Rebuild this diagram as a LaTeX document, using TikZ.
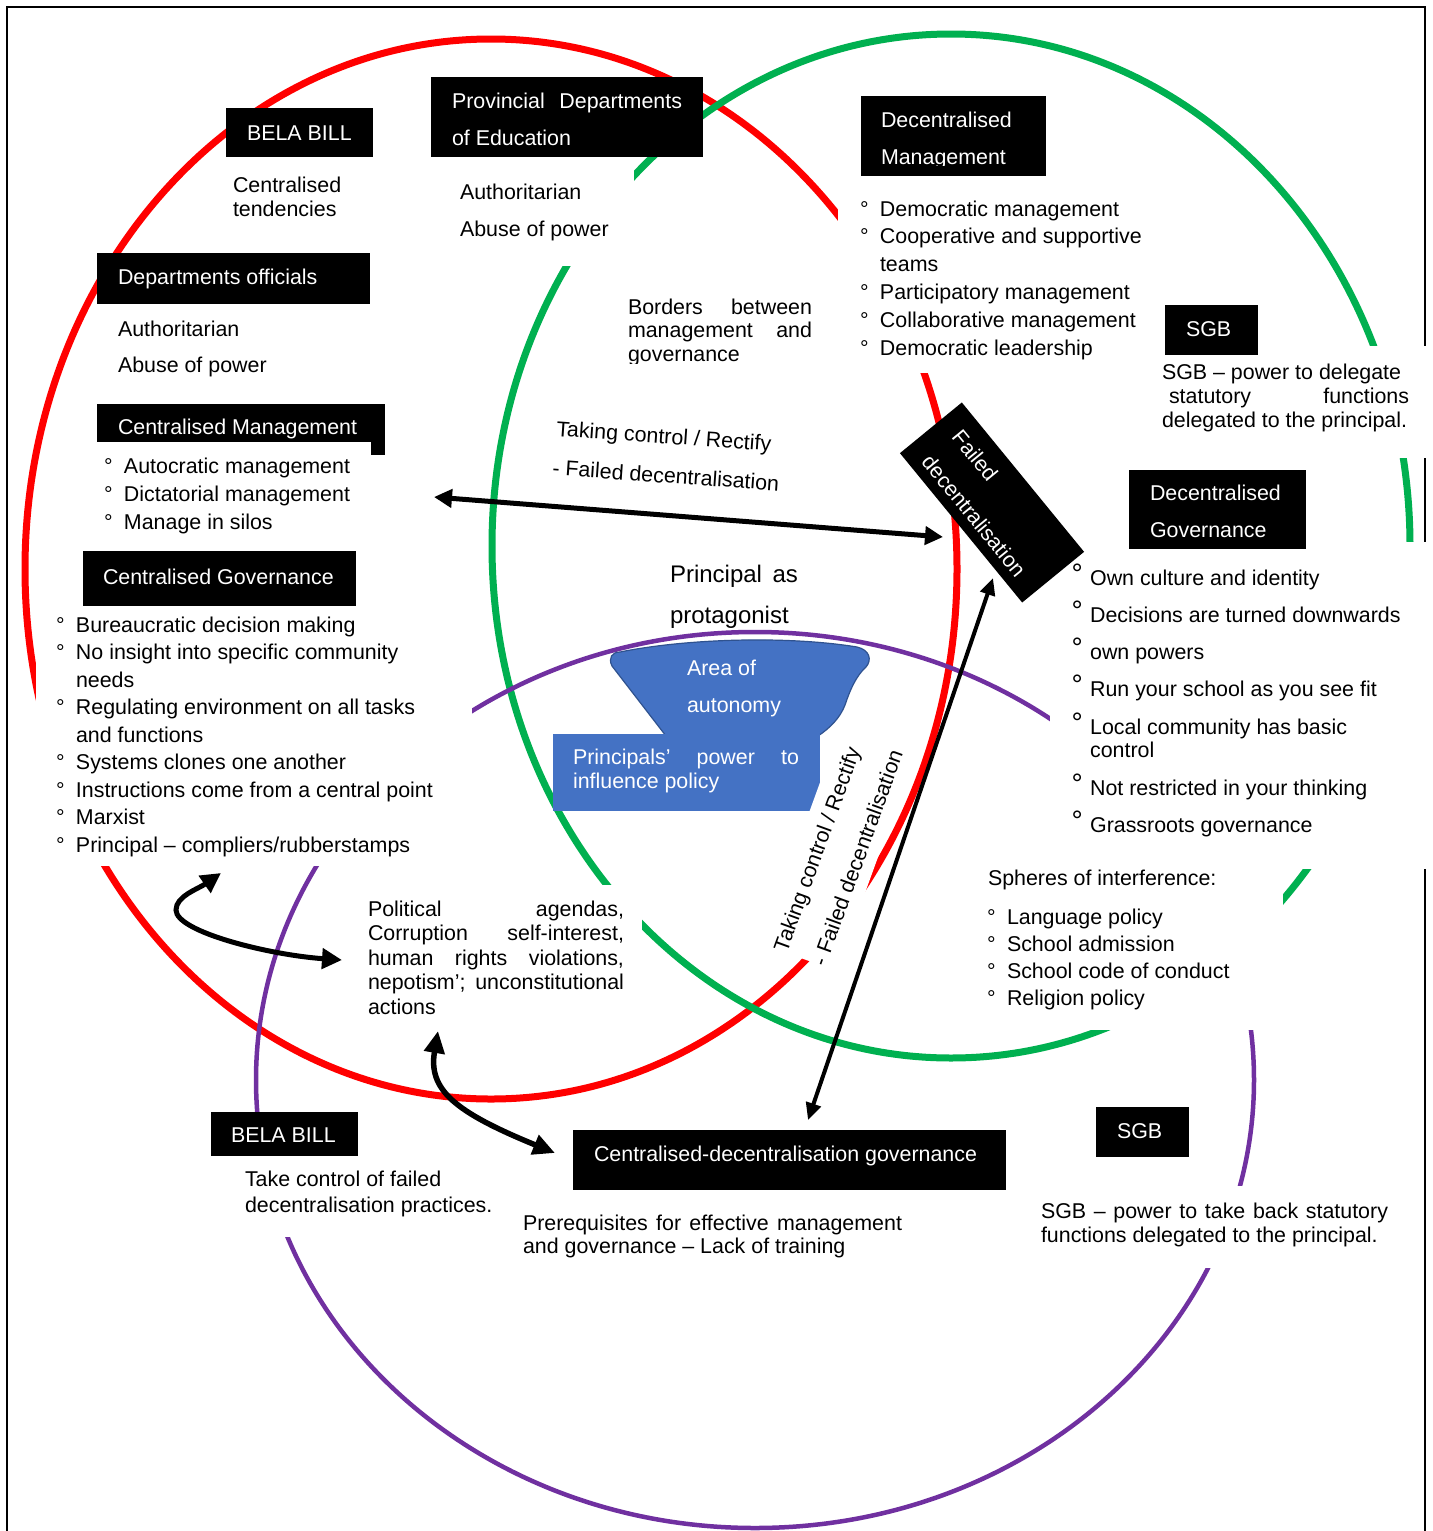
\documentclass[tikz,border=0pt]{standalone}
\usepackage{fontspec}
\setmainfont{Liberation Sans}
\usetikzlibrary{arrows.meta}
\definecolor{cred}{HTML}{FF0000}
\definecolor{cgreen}{HTML}{00B050}
\definecolor{cpurple}{HTML}{7030A0}
\definecolor{cblue}{HTML}{4472C4}
\definecolor{cblueline}{HTML}{2F528F}
\newcommand{\fsz}[1]{\fontsize{10.7pt}{#1pt}\selectfont}
\newcommand{\bu}{\makebox[10pt][l]{°}}
\newcommand{\nb}{\hspace*{10pt}}
\newcommand{\Bu}{\makebox[9.3pt][l]{\smash{\raisebox{0.75pt}{\fontsize{14pt}{14pt}\selectfont °}}}}
\newcommand{\lns}[1]{\begin{tabular}[t]{@{}l@{}}#1\end{tabular}}
\begin{document}
\begin{tikzpicture}[x=0.5pt,y=-0.5pt,
  bx/.style={fill=black, anchor=north west, inner sep=0pt, outer sep=0pt},
  tx/.style={anchor=base west, inner sep=0pt, outer sep=0pt, font=\fsz{13.8}},
  wt/.style={tx, text=white},
  ringR/.style={cred, line width=3.5pt},
  ringG/.style={cgreen, line width=3.5pt},
  ringP/.style={cpurple, line width=2.25pt},
  mask/.style={fill=white},
  arrA/.style={line width=2.5pt, {Triangle[length=9pt,width=9pt]}-{Triangle[length=9pt,width=9pt]}},
  arrB/.style={line width=2pt, {Triangle[length=8.5pt,width=7.5pt]}-{Triangle[length=8.5pt,width=7.5pt]}},
  arrC/.style={line width=2.5pt, {Triangle[length=10pt,width=10pt]}-{Triangle[length=10pt,width=10pt]}},
  arrD/.style={line width=2.75pt, {Triangle[length=11pt,width=10pt]}-{Triangle[length=11pt,width=10pt]}}]
\useasboundingbox (0,0) rectangle (1432,1531);
\fill[white] (0,0) rectangle (1432,1531);
% frame
\draw[line width=1pt] (7,1531) -- (7,7) -- (1425,7) -- (1425,1531);
% circles
\draw[ringR] (491,569) ellipse [x radius=466, y radius=530];
\draw[ringG] (951,546) ellipse [x radius=459, y radius=512];
\draw[ringP] (755,1080) ellipse [x radius=499, y radius=448];
% white text-box backgrounds
\fill[mask] (440,157) rectangle (634,266);
\fill[mask] (838,176) rectangle (1150,373);
\fill[mask] (1150,346) rectangle (1432,458);
\fill[mask] (1050,542) rectangle (1432,869);
\fill[mask] (960,869) rectangle (1283,1030);
\fill[mask] (36,606) rectangle (472,866);
\fill[mask] (345,885) rectangle (642,1020);
\fill[mask] (240,1156) rectangle (500,1237);
\fill[mask] (1035,1186) rectangle (1400,1268);
% black boxes
\node[bx, minimum width=73.5pt, minimum height=24.5pt] (bela1) at (226,108) {};
\node[wt] (bela1t) at (247,140) {BELA BILL};
\node[bx, minimum width=136pt, minimum height=40pt] (prov) at (431,77) {};
\node[wt, font=\fsz{18.5}] (provt) at (452,108) {\lns{\makebox[115pt][s]{Provincial Departments}\\ of Education}};
\node[bx, minimum width=136.5pt, minimum height=25.5pt] (dept) at (97,253) {};
\node[wt] (deptt) at (118,284) {Departments officials};
\node[bx, minimum width=144pt, minimum height=25.5pt] (cmgmt) at (97,404) {};
\node[wt] (cmgmtt) at (118,434) {Centralised Management};
\fill[mask] (97,442) rectangle (371,540);
\node[bx, minimum width=136.5pt, minimum height=27.5pt] (cgov) at (83,551) {};
\node[wt] (cgovt) at (103,584) {Centralised Governance};
\node[bx, minimum width=92.5pt, minimum height=40pt] (dmgmt) at (861,96) {};
\begin{scope}
\clip (861,96) rectangle (1046,165);
\node[wt, font=\fsz{18.5}] (dmgmtt) at (881,127) {\lns{Decentralised\\ Management}};
\end{scope}
\node[bx, minimum width=46.5pt, minimum height=25pt] (sgb1) at (1165,305) {};
\node[wt] (sgb1t) at (1186,336) {SGB};
\node[bx, minimum width=88.5pt, minimum height=39.5pt] (dgov) at (1129,470) {};
\node[wt, font=\fsz{18.5}] (dgovt) at (1150,500) {\lns{Decentralised\\ Governance}};
\node[bx, minimum width=216.5pt, minimum height=30pt] (cdgov) at (573,1130) {};
\node[wt] (cdgovt) at (594,1161) {Centralised-decentralisation governance};
\node[bx, minimum width=73.5pt, minimum height=22pt] (bela2) at (211,1112) {};
\node[wt] (bela2t) at (231,1142) {BELA BILL};
\node[bx, minimum width=46.5pt, minimum height=25pt] (sgb2) at (1096,1107) {};
\node[wt] (sgb2t) at (1117,1138) {SGB};
\begin{scope}[shift={(992,502.5)}, rotate=-50.7, transform shape]
\node[fill=black, minimum width=96.5pt, minimum height=40pt, inner sep=0pt] (failed) at (0,0) {};
\node[wt, font=\fsz{19.5}] (failedt) at (-76,-9) {\lns{Failed\\ decentralisation}};
\end{scope}
% plain texts
\node[tx, font=\fsz{12}] (centt) at (233,192) {\lns{Centralised\\ tendencies}};
\node[tx, font=\fsz{18.5}] (provsub) at (460,199) {\lns{Authoritarian\\ Abuse of power}};
\node[tx, font=\fsz{18}] (deptsub) at (118,336) {\lns{Authoritarian\\ Abuse of power}};
\begin{scope}
\clip (620,290) rectangle (820,363);
\node[tx, font=\fsz{11.75}] (borders) at (628,314) {\lns{\makebox[92pt][s]{Borders between}\\ \makebox[92pt][s]{management and}\\ governance}};
\end{scope}
\node[tx, rotate=-4] (tc1) at (556,436) {Taking control / Rectify};
\node[tx, rotate=-4] (tc2) at (552,475) {- Failed decentralisation};
\node[tx, font=\fontsize{12pt}{20.5pt}\selectfont] (prot) at (670,582) {\lns{\makebox[64pt][s]{Principal as}\\ protagonist}};
\node[tx, font=\fsz{14}] (cmlist) at (104,473) {\lns{\bu Autocratic management\\ \bu Dictatorial management\\ \bu Manage in silos}};
\node[tx, font=\fsz{13.75}] (cglist) at (56,632) {\lns{\bu Bureaucratic decision making\\ \bu No insight into specific community\\ \nb needs\\ \bu Regulating environment on all tasks\\ \nb and functions\\ \bu Systems clones one another\\ \bu Instructions come from a central point\\ \bu Marxist\\ \bu Principal – compliers/rubberstamps}};
\node[tx, font=\fsz{13.9}] (dmlist) at (860,216) {\lns{\bu Democratic management\\ \bu Cooperative and supportive\\ \nb teams\\ \bu Participatory management\\ \bu Collaborative management\\ \bu Democratic leadership}};
\node[tx, font=\fsz{12}] (sgbtxt1) at (1162,379) {\lns{SGB – power to delegate\\ \hspace*{3.5pt}\makebox[120pt][s]{statutory functions}\\ delegated to the principal.}};
\node[tx, font=\fsz{11.5}] (dglist) at (1071.5,585) {\lns{\Bu Own culture and identity\\[7pt] \Bu Decisions are turned downwards\\[7pt] \Bu own powers\\[7pt] \Bu Run your school as you see fit\\[7.5pt] \Bu Local community has basic\\ \hspace*{9.3pt}control\\[7.5pt] \Bu Not restricted in your thinking\\[7pt] \Bu Grassroots governance}};
\node[tx] (sphh) at (988,885) {Spheres of interference:};
\node[tx, font=\fsz{13.5}] (sphl) at (987,924) {\lns{\bu Language policy\\ \bu School admission\\ \bu School code of conduct\\ \bu Religion policy}};
\node[tx, font=\fsz{12.25}] (pol) at (368,916) {\lns{\makebox[128pt][s]{Political agendas,}\\ \makebox[128pt][s]{Corruption self-interest,}\\ \makebox[128pt][s]{human rights violations,}\\ \makebox[128pt][s]{nepotism’; unconstitutional}\\ actions}};
\node[tx, font=\fsz{13}] (bela2sub) at (245,1186) {\lns{Take control of failed\\ decentralisation practices.}};
\node[tx, font=\fsz{11.5}] (prereq) at (523,1230) {\lns{\makebox[189.5pt][s]{Prerequisites for effective management}\\ and governance – Lack of training}};
\node[tx, font=\fsz{12}] (sgbtxt2) at (1041,1218) {\lns{\makebox[173.5pt][s]{SGB – power to take back statutory}\\ functions delegated to the principal.}};
% blue shapes
\filldraw[fill=cblue, draw=cblueline, line width=0.6pt] (620,652) .. controls (690,638) and (790,636) .. (857,647) .. controls (870,650) and (872,660) .. (866,667) .. controls (856,676) and (850,690) .. (845,705) .. controls (840,718) and (830,728) .. (818,736) -- (666,736) -- (612,666) .. controls (608,658) and (612,652) .. (620,652) -- cycle;
\fill[cblue] (553,734) rectangle (820,811);
\node[wt, font=\fsz{18.5}] (areat) at (687,675) {\lns{Area of\\ autonomy}};
\node[wt, font=\fsz{12}] (powt) at (573,764) {\lns{\makebox[113pt][s]{Principals’ power to}\\ influence policy}};
% rotated text box
\node[tx, rotate=70, fill=white, font=\fsz{19.5}] (tcv) at (787,953) {\lns{Taking control / Rectify\\[1pt] - Failed decentralisation}};
% connectors
\coordinate (h1) at (434,497); \coordinate (h2) at (943,537);
\draw[arrA] (h1) -- (h2);
\coordinate (d1) at (993,578); \coordinate (d2) at (808,1120);
\draw[arrB] (d1) -- (d2);
\coordinate (c1) at (221,873); \coordinate (c2) at (342,960);
\draw[arrC] (c1) .. controls (198,889) and (176,896) .. (176,910) .. controls (176,932) and (270,955) .. (c2);
\coordinate (e1) at (438,1031); \coordinate (e2) at (555,1153);
\draw[arrD] (e1) .. controls (428,1090) and (455,1112) .. (e2);
\end{tikzpicture}
\end{document}
